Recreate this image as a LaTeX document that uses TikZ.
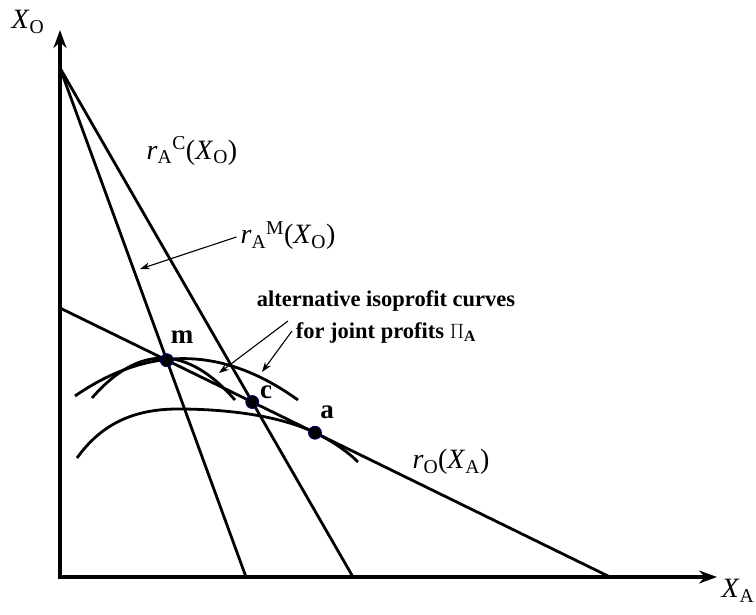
\documentclass[tikz,border=0pt]{standalone}
\usepackage{fontspec}
\setmainfont{Liberation Serif}
\usetikzlibrary{arrows.meta,calc,intersections}

\begin{document}
\begin{tikzpicture}[
  x=1pt, y=1pt,
  font=\fontsize{28}{32}\selectfont,
  axis/.style={line width=4.4pt, line join=miter},
  curve/.style={line width=2.8pt},
  pointer/.style={line width=1.1pt, -{Stealth[length=10pt,width=7pt]}},
  dot/.style={circle, fill=black, draw=blue!45!black, line width=0.8pt, inner sep=0pt, minimum size=13pt},
  lbl/.style={inner sep=1pt},
  pt/.style={inner sep=1pt, font=\fontsize{27}{30}\selectfont\bfseries}
]
\useasboundingbox (-60,-37) rectangle (696,577);

% axes
\coordinate (O) at (0,0);
\coordinate (ytip) at (0,547);
\coordinate (xtip) at (657,0);
\draw[axis, {Stealth[length=18pt,width=13pt,inset=6pt]}-{Stealth[length=18pt,width=13pt,inset=6pt]}] (ytip) -- (O) -- (xtip);
\node[lbl] (xo) at (-32,555) {\textit{X}\textsubscript{O}};
\node[lbl] (xa) at (678,-14) {\textit{X}\textsubscript{A}};

% reaction functions
\coordinate (top) at (0,509);
\coordinate (mfoot) at (186,0);
\coordinate (cfoot) at (293,0);
\coordinate (ostart) at (0,269);
\coordinate (oend) at (550,0);
\draw[curve, name path=rM] (top) -- (mfoot);
\draw[curve, name path=rC] (top) -- (cfoot);
\draw[curve, name path=rO] (ostart) -- (oend);
\path[name intersections={of=rM and rO, by=m}];
\path[name intersections={of=rC and rO, by=c}];
\coordinate (a) at ($(ostart)!0.4636!(oend)$);

% isoprofit curves
\coordinate (A1) at (15,181);
\coordinate (A2) at (238,177);
\coordinate (B1) at (32,179);
\coordinate (B2) at (175,177);
\coordinate (C1) at (17,119);
\coordinate (Cpk) at (118,168);
\coordinate (C2) at (298,115);
\draw[curve] (A1) .. controls (89,232) and (163,231) .. (A2);
\draw[curve] (B1) .. controls (79,233) and (127,232) .. (B2);
\draw[curve] (C1) .. controls (42,154) and (75,168) .. (Cpk)
  .. controls (160,168) and (216,163) .. (a)
  .. controls (270,137) and (286,127) .. (C2);

\node[dot] (mdot) at (m) {};
\node[dot] (cdot) at (c) {};
\node[dot] (adot) at (a) {};
\node[pt] (ml) at (122,240) {m};
\node[pt] (cl) at (206,185) {c};
\node[pt] (al) at (267,165) {a};

% labels
\node[lbl] (rAC) at (132,426) {\textit{r}\textsubscript{A}\textsuperscript{C}(\textit{X}\textsubscript{O})};
\node[lbl] (rAM) at (228,341) {\textit{r}\textsubscript{A}\textsuperscript{M}(\textit{X}\textsubscript{O})};
\node[lbl] (rO) at (391,115) {\textit{r}\textsubscript{O}(\textit{X}\textsubscript{A})};
\node[lbl, align=center, font=\fontsize{22.5}{32}\selectfont\bfseries] (iso) at (326,260)
  {alternative isoprofit curves\\ for joint profits \textmd{$\Pi$}\textsubscript{A}};

% pointers
\coordinate (mtip) at (80,308);
\draw[pointer, shorten <=3pt] (rAM.west) -- (mtip);
\coordinate (isoA) at (228,256);
\coordinate (isoB) at (232,246);
\coordinate (tipB) at (159,204);
\coordinate (tipA) at (202,205);
\draw[pointer] (isoA) -- (tipB);
\draw[pointer] (isoB) -- (tipA);
\end{tikzpicture}
\end{document}
